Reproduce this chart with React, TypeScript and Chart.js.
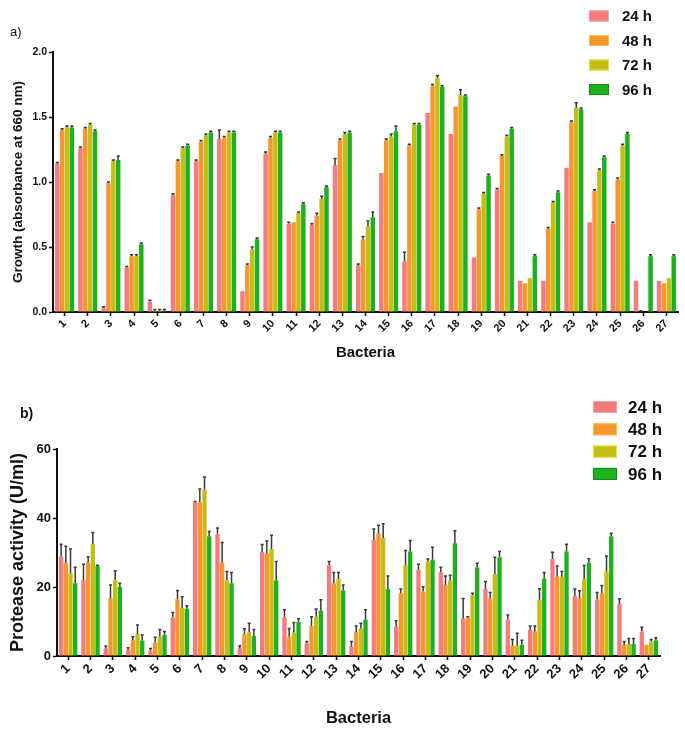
import React, { useEffect, useRef } from "react";
import { Chart, registerables } from "chart.js";

Chart.register(...registerables);

const bacteria = Array.from({ length: 27 }, (_, i) => String(i + 1));
const seriesLabels = ["24 h", "48 h", "72 h", "96 h"];
const seriesColors = ["#F77B7B", "#F7952F", "#C4BD12", "#1DB21D"];
const seriesBorders = ["#FBA0A0", "#F9C04A", "#E8E244", "#118A11"];

// a) Growth (absorbance at 660 nm)
const growth24 = [1.14, 1.26, 0.03, 0.34, 0.08, 0.9, 1.16, 1.33, 0.16, 1.22, 0.68, 0.67, 1.13, 0.36, 1.07, 0.39, 1.53, 1.37, 0.42, 0.94, 0.24, 0.24, 1.11, 0.69, 0.68, 0.24, 0.24];
const growth48 = [1.4, 1.41, 0.99, 0.43, 0.01, 1.16, 1.31, 1.34, 0.36, 1.34, 0.69, 0.74, 1.32, 0.56, 1.32, 1.28, 1.74, 1.58, 0.79, 1.2, 0.22, 0.64, 1.46, 0.93, 1.02, 0, 0.22];
const growth72 = [1.42, 1.44, 1.16, 0.43, 0.01, 1.26, 1.36, 1.38, 0.48, 1.38, 0.76, 0.87, 1.37, 0.66, 1.35, 1.44, 1.8, 1.67, 0.91, 1.35, 0.26, 0.84, 1.57, 1.09, 1.28, 0, 0.26];
const growth96 = [1.42, 1.39, 1.17, 0.52, 0.01, 1.28, 1.38, 1.38, 0.56, 1.38, 0.83, 0.96, 1.38, 0.73, 1.39, 1.44, 1.73, 1.66, 1.05, 1.41, 0.43, 0.92, 1.56, 1.19, 1.37, 0.43, 0.43];
const growthErr24 = [0.01, 0.01, 0.01, 0.01, 0.01, 0.01, 0.01, 0.07, 0, 0.01, 0.01, 0.01, 0.05, 0.01, 0, 0.07, 0, 0, 0, 0.01, 0, 0, 0, 0, 0.01, 0, 0];
const growthErr48 = [0.01, 0.01, 0.01, 0.01, 0.01, 0.01, 0.01, 0.01, 0.01, 0.01, 0, 0.02, 0.01, 0.02, 0.01, 0.01, 0.01, 0, 0.01, 0.01, 0, 0.01, 0.01, 0.01, 0.01, 0.01, 0];
const growthErr72 = [0.01, 0.01, 0.01, 0.01, 0.01, 0.01, 0.01, 0.01, 0.02, 0.01, 0.01, 0.02, 0.01, 0.04, 0.02, 0.01, 0.02, 0.04, 0.01, 0.01, 0, 0.01, 0.04, 0.01, 0.01, 0, 0];
const growthErr96 = [0.01, 0.01, 0.03, 0.01, 0.01, 0.01, 0.01, 0.01, 0.01, 0.01, 0.01, 0.01, 0.01, 0.04, 0.04, 0.01, 0.01, 0.01, 0.01, 0.01, 0.01, 0.01, 0.01, 0.01, 0.01, 0.01, 0.01];
const growthTicks = [0, 0.5, 1.0, 1.5, 2.0];

// b) Protease activity (U/ml)
const prot24 = [28.8, 22, 2.2, 1.9, 1.5, 11.2, 44.5, 35.4, 2.2, 30.1, 11.2, 3.7, 26.4, 2.7, 33.7, 8.5, 25, 24.3, 10.9, 19.5, 10.6, 7.6, 28.1, 17.5, 16.3, 15.1, 7.1];
const prot48 = [26.9, 27.1, 16.7, 4.6, 3.9, 16.5, 44.5, 27.1, 6.4, 29.8, 5.6, 8.7, 21.1, 6.9, 35.6, 18.2, 18.7, 20.6, 11.1, 16.7, 3, 7.1, 23, 16.7, 18.2, 3.2, 3.2];
const prot72 = [24, 32.4, 22, 6.4, 5.6, 14, 48.2, 22, 6.9, 31, 6.8, 11.4, 22.3, 8, 34.2, 26.4, 27.4, 21.8, 17.7, 23.7, 3, 16.3, 23, 22.3, 24.5, 3.5, 4.2];
const prot96 = [21.1, 26.1, 20, 4.5, 6.1, 13.7, 34.7, 21.1, 5.8, 21.9, 9.9, 13.2, 19, 10.5, 19.4, 30.3, 27.9, 32.7, 25.7, 28.6, 3.2, 22.4, 30.3, 27.1, 34.7, 3.5, 4.5];
const protErr24 = [3.6, 4.6, 0.7, 0.5, 0.7, 1.4, 0.3, 1.7, 0.8, 2.2, 2.2, 0.5, 1.0, 1.5, 3.1, 1.7, 1.6, 1.4, 5.8, 2.1, 1.3, 1.1, 2.0, 1.9, 2.1, 1.5, 1.2];
const protErr48 = [4.9, 1.7, 3.9, 1.0, 1.5, 2.5, 3.9, 5.8, 1.5, 3.5, 2.4, 2.7, 3.1, 1.8, 2.3, 1.2, 1.4, 2.6, 0.3, 1.7, 1.8, 1.6, 3.1, 2.2, 2.2, 1.0, 0];
const protErr72 = [7, 3.4, 2.7, 2.6, 2.1, 3.2, 3.7, 2.5, 2.6, 4, 2.9, 2.2, 1.9, 1.5, 4.1, 4.2, 0.7, 1.6, 0.5, 4.9, 3.6, 3.2, 1.5, 3.9, 4.5, 1.6, 0.6];
const protErr96 = [4.6, 0.2, 1.1, 1.6, 1.0, 0.9, 1.4, 3.1, 1.9, 5.5, 0.9, 3.1, 1.6, 2.9, 3.8, 3.2, 3.6, 3.6, 1.2, 1.7, 1.4, 1.8, 2.1, 1.1, 0.9, 1.6, 0.8];
const protTicks = [0, 20, 40, 60];

const FONT = "Arial, 'Liberation Sans', sans-serif";

const errorBarPlugin = {
  id: "errorBars",
  afterDatasetsDraw(chart: any) {
    const ctx = chart.ctx;
    const yScale = chart.scales.y;
    chart.data.datasets.forEach((ds: any, i: number) => {
      const meta = chart.getDatasetMeta(i);
      if (!ds.errors) return;
      meta.data.forEach((el: any, j: number) => {
        const err = ds.errors[j];
        if (!err) return;
        const v = ds.data[j];
        const yTop = yScale.getPixelForValue(v + err);
        const yVal = yScale.getPixelForValue(v);
        ctx.save();
        ctx.strokeStyle = "#3a3a3a";
        ctx.lineWidth = 1.5;
        ctx.beginPath();
        ctx.moveTo(el.x, yVal);
        ctx.lineTo(el.x, yTop);
        const cw = el.width * 0.35;
        ctx.moveTo(el.x - cw, yTop);
        ctx.lineTo(el.x + cw, yTop);
        ctx.stroke();
        ctx.restore();
      });
    });
  },
};

const legendPlugin = {
  id: "sideLegend",
  afterDraw(chart: any) {
    const o = chart.options.plugins.sideLegend;
    if (!o) return;
    const ctx = chart.ctx;
    ctx.save();
    chart.data.datasets.forEach((ds: any, i: number) => {
      const cy = o.y + i * o.rowH;
      ctx.fillStyle = ds.backgroundColor;
      ctx.fillRect(o.x, cy - o.boxH / 2, o.boxW, o.boxH);
      ctx.strokeStyle = ds.borderColor;
      ctx.lineWidth = 1;
      ctx.strokeRect(o.x + 0.5, cy - o.boxH / 2 + 0.5, o.boxW - 1, o.boxH - 1);
      ctx.fillStyle = "#111";
      ctx.font = `bold ${o.fontSize}px ${FONT}`;
      ctx.textBaseline = "middle";
      ctx.textAlign = "left";
      ctx.fillText(ds.label, o.x + o.boxW + o.gap, cy + 1);
    });
    ctx.restore();
  },
};

function buildDatasets(values: number[][], errors: number[][]) {
  return values.map((vals, i) => ({
    label: seriesLabels[i],
    data: vals,
    errors: errors[i],
    backgroundColor: seriesColors[i],
    borderColor: seriesBorders[i],
    borderWidth: 0,
    categoryPercentage: 0.84,
    barPercentage: 0.92,
  }));
}

function makeOptions(p: any) {
  return {
    responsive: false,
    animation: false,
    layout: { padding: p.padding },
    plugins: {
      legend: { display: false },
      tooltip: { enabled: false },
      sideLegend: p.legend,
    },
    scales: {
      x: {
        offset: true,
        grid: { display: true, drawOnChartArea: false, offset: false, tickLength: 4, color: "#111", tickWidth: 1.5 },
        border: { display: true, color: "#111", width: 2 },
        ticks: {
          autoSkip: false,
          maxRotation: 45,
          minRotation: 45,
          color: "#111",
          padding: 1,
          font: { family: FONT, size: p.xTickSize, weight: "bold" },
        },
        title: {
          display: true,
          text: "Bacteria",
          color: "#111",
          font: { family: FONT, size: p.xTitleSize, weight: "bold" },
          padding: { top: 0, bottom: p.xTitlePad },
        },
        afterFit: (s: any) => {
          s.height = p.xHeight;
        },
      },
      y: {
        min: p.yMin,
        max: p.yMax,
        grid: { display: true, drawOnChartArea: false, tickLength: 4, color: "#111", tickWidth: 1.5 },
        border: { display: true, color: "#111", width: 2 },
        afterBuildTicks: (s: any) => {
          s.ticks = p.ticks.map((v: number) => ({ value: v }));
        },
        ticks: {
          color: "#111",
          padding: 2,
          font: { family: FONT, size: p.yTickSize, weight: "bold" },
          callback: p.tickFmt,
        },
        title: {
          display: true,
          text: p.yTitle,
          color: "#111",
          font: { family: FONT, size: p.yTitleSize, weight: "bold" },
          padding: { top: p.yTitlePad, bottom: 0 },
        },
        afterFit: (s: any) => {
          s.width = p.yWidth;
        },
      },
    },
  };
}

function BarChart(props: { width: number; height: number; datasets: any[]; opts: any }) {
  const ref = useRef<HTMLCanvasElement>(null);
  useEffect(() => {
    if (!ref.current) return;
    const chart = new Chart(ref.current, {
      type: "bar",
      data: { labels: bacteria, datasets: props.datasets },
      options: props.opts,
      plugins: [errorBarPlugin, legendPlugin],
    } as any);
    return () => chart.destroy();
  }, []);
  return <canvas ref={ref} width={props.width} height={props.height} style={{ display: "block" }} />;
}

export default function App() {
  const dsA = buildDatasets([growth24, growth48, growth72, growth96], [growthErr24, growthErr48, growthErr72, growthErr96]);
  const dsB = buildDatasets([prot24, prot48, prot72, prot96], [protErr24, protErr48, protErr72, protErr96]);
  const optsA = makeOptions({
    padding: { left: 0, right: 7, top: 52, bottom: 3 },
    yMin: 0,
    yMax: 2,
    ticks: growthTicks,
    tickFmt: (v: number) => Number(v).toFixed(1),
    yTitle: "Growth (absorbance at 660 nm)",
    yTitleSize: 13.5,
    yTitlePad: 10,
    yTickSize: 10.5,
    yWidth: 53,
    xTickSize: 11,
    xTitleSize: 15,
    xTitlePad: 5,
    xHeight: 55,
    legend: { x: 589, y: 16, rowH: 24.5, boxW: 20, boxH: 11, gap: 13, fontSize: 15 },
  });
  const optsB = makeOptions({
    padding: { left: 0, right: 25, top: 79, bottom: 0 },
    yMin: 0,
    yMax: 60,
    ticks: protTicks,
    tickFmt: (v: number) => String(v),
    yTitle: "Protease activity (U/ml)",
    yTitleSize: 18,
    yTitlePad: 7,
    yTickSize: 13,
    yWidth: 57,
    xTickSize: 13,
    xTitleSize: 16.5,
    xTitlePad: 2,
    xHeight: 74,
    legend: { x: 593, y: 37, rowH: 22.3, boxW: 24, boxH: 12, gap: 11, fontSize: 17 },
  });
  return (
    <div style={{ position: "absolute", left: 0, top: 0, width: 685, height: 730, background: "#fff", fontFamily: FONT }}>
      <div style={{ position: "absolute", left: 0, top: 0 }}>
        <BarChart width={685} height={370} datasets={dsA} opts={optsA} />
      </div>
      <div style={{ position: "absolute", left: 0, top: 370 }}>
        <BarChart width={685} height={360} datasets={dsB} opts={optsB} />
      </div>
      <div style={{ position: "absolute", left: 10, top: 24, fontSize: 13, color: "#111" }}>a)</div>
      <div style={{ position: "absolute", left: 20, top: 405, fontSize: 14, fontWeight: "bold", color: "#111" }}>b)</div>
    </div>
  );
}
